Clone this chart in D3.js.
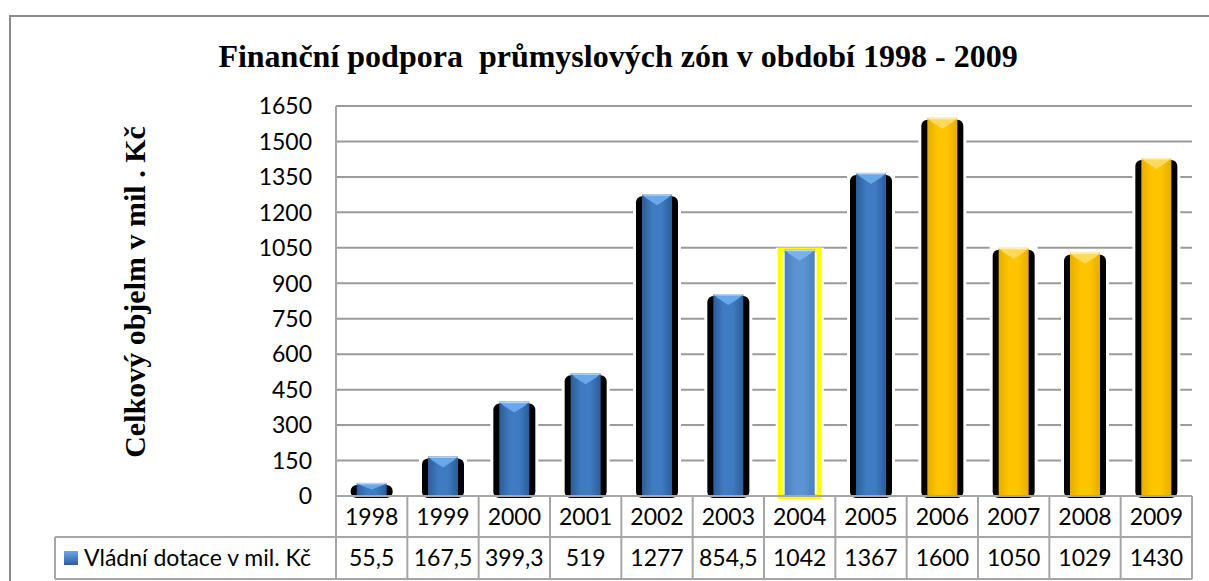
<!DOCTYPE html>
<html><head><meta charset="utf-8">
<script src="https://cdn.jsdelivr.net/npm/d3@7"></script>
<style>body{margin:0;background:#fff}</style>
</head><body>
<svg id="c" width="1209" height="581"></svg>
<script>
const years = ["1998","1999","2000","2001","2002","2003","2004","2005","2006","2007","2008","2009"];
const values = [55.5,167.5,399.3,519,1277,854.5,1042,1367,1600,1050,1029,1430];
const barStyle = ["blue","blue","blue","blue","blue","blue","light","blue","gold","gold","gold","gold"];
const yTicks = [0,150,300,450,600,750,900,1050,1200,1350,1500,1650];
const seriesName = "Vládní dotace v mil. Kč";
const title = "Finanční podpora  průmyslových zón v období 1998 - 2009";
const yTitle = "Celkový objelm v mil . Kč";

const svg = d3.select("#c");
const L = 336, R = 1192, T = 106, B = 496;
const row1 = 537, row2 = 579, legL = 55;
const y = d3.scaleLinear().domain([0,1650]).range([B,T]);
const x = d3.scaleBand().domain(years).range([L,R]).padding(0);
const num = "Lato, 'Open Sans', sans-serif";
const fs = 23;

const defs = svg.append("defs");
function grad(id, edge, mid){
  const g = defs.append("linearGradient").attr("id",id).attr("x1","0").attr("x2","1").attr("y1","0").attr("y2","0");
  g.append("stop").attr("offset","0").attr("stop-color",edge);
  g.append("stop").attr("offset","0.35").attr("stop-color",mid);
  g.append("stop").attr("offset","0.65").attr("stop-color",mid);
  g.append("stop").attr("offset","1").attr("stop-color",edge);
}
grad("g-blue","#2c5d98","#3f7bc2");
grad("g-light","#4a7fbf","#5b93d3");
grad("g-gold","#e6ad00","#ffc400");
const topCol = {blue:"#6aa8ec", light:"#7ab0ec", gold:"#ffd95a"};
const fillId = {blue:"url(#g-blue)", light:"url(#g-light)", gold:"url(#g-gold)"};

// outer border
svg.append("rect").attr("x",10).attr("y",16).attr("width",1250).attr("height",600)
  .attr("fill","none").attr("stroke","#8c8c8c").attr("stroke-width",2);

// title
svg.append("text").attr("x",618).attr("y",67).attr("text-anchor","middle")
  .style("white-space","pre")
  .attr("font-family","'Liberation Serif', 'Times New Roman', serif").attr("font-weight","bold")
  .attr("font-size",32).text(title);

// y title
svg.append("text").attr("transform","translate(145,292) rotate(-90)").attr("text-anchor","middle")
  .attr("font-family","'Liberation Serif', 'Times New Roman', serif").attr("font-weight","bold")
  .attr("font-size",30).text(yTitle);

// gridlines
svg.append("g").selectAll("line").data(yTicks.filter(d=>d>0)).join("line")
  .attr("x1",L).attr("x2",R).attr("y1",d=>y(d)).attr("y2",d=>y(d))
  .attr("stroke","#9a9a9a").attr("stroke-width",2);

// y tick labels
svg.append("g").selectAll("text").data(yTicks).join("text")
  .attr("x",312).attr("y",d=>y(d)).attr("dy","0.36em").attr("text-anchor","end")
  .attr("font-family",num).attr("font-size",fs).attr("fill","#000").text(d=>d);

// bars
const bw = 30;
const bars = svg.append("g").selectAll("g").data(years).join("g")
  .attr("transform",d=>`translate(${x(d)+x.bandwidth()/2},0)`);
bars.each(function(d,i){
  const g = d3.select(this);
  const v = values[i], s = barStyle[i], top = y(v), h = B - top;
  g.append("rect").attr("x",-24).attr("y",top-2).attr("width",48).attr("height",B-top+2).attr("fill","#fff");
  if(s==="light"){
    g.append("rect").attr("x",-19.5).attr("y",top+0.5).attr("width",39).attr("height",h).attr("fill","none")
      .attr("stroke","#ffff00").attr("stroke-width",5);
  } else {
    g.append("rect").attr("x",-21).attr("y",top+2).attr("width",42).attr("height",h).attr("rx",6).attr("fill","#000");
  }
  g.append("rect").attr("x",-bw/2).attr("y",top).attr("width",bw).attr("height",h).attr("fill",fillId[s]);
  const th = Math.min(11, h/2);
  g.append("path").attr("d",`M${-bw/2},${top} L${bw/2},${top} L${bw/2-4},${top+th*0.35} L0,${top+th} L${-bw/2+4},${top+th*0.35} Z`)
    .attr("fill",topCol[s]);
  g.append("rect").attr("x",-bw/2).attr("y",top).attr("width",bw).attr("height",1.5).attr("fill","#fff").attr("opacity",0.5);
});

// axis & table
const tb = svg.append("g").attr("stroke","#a6a6a6").attr("stroke-width",2).attr("fill","none");
tb.append("line").attr("x1",L).attr("x2",L).attr("y1",T).attr("y2",row2);
tb.append("line").attr("x1",L).attr("x2",R).attr("y1",B).attr("y2",B);
tb.append("line").attr("x1",legL).attr("x2",R).attr("y1",row1).attr("y2",row1);
tb.append("line").attr("x1",legL).attr("x2",R).attr("y1",row2).attr("y2",row2);
tb.append("line").attr("x1",legL).attr("x2",legL).attr("y1",row1).attr("y2",row2);
tb.selectAll("line.v").data(years).join("line").attr("class","v")
  .attr("x1",d=>x(d)+x.bandwidth()).attr("x2",d=>x(d)+x.bandwidth()).attr("y1",B).attr("y2",row2);

svg.append("g").selectAll("text").data(years).join("text")
  .attr("x",d=>x(d)+x.bandwidth()/2).attr("y",(B+row1)/2).attr("dy","0.36em").attr("text-anchor","middle")
  .attr("font-family",num).attr("font-size",fs).text(d=>d);
svg.append("g").selectAll("text").data(years).join("text")
  .attr("x",d=>x(d)+x.bandwidth()/2).attr("y",(row1+row2)/2).attr("dy","0.36em").attr("text-anchor","middle")
  .attr("font-family",num).attr("font-size",fs).text((d,i)=>String(values[i]).replace(".",","));

// legend key
const lg = defs.append("linearGradient").attr("id","lk").attr("x1","0").attr("x2","0").attr("y1","0").attr("y2","1");
lg.append("stop").attr("offset","0").attr("stop-color","#6aa8ec");
lg.append("stop").attr("offset","1").attr("stop-color","#2c5d98");
svg.append("rect").attr("x",64).attr("y",551).attr("width",14).attr("height",14).attr("fill","url(#lk)");
svg.append("text").attr("x",84).attr("y",(row1+row2)/2).attr("dy","0.36em")
  .attr("font-family",num).attr("font-size",fs).text(seriesName);
</script>
</body></html>
